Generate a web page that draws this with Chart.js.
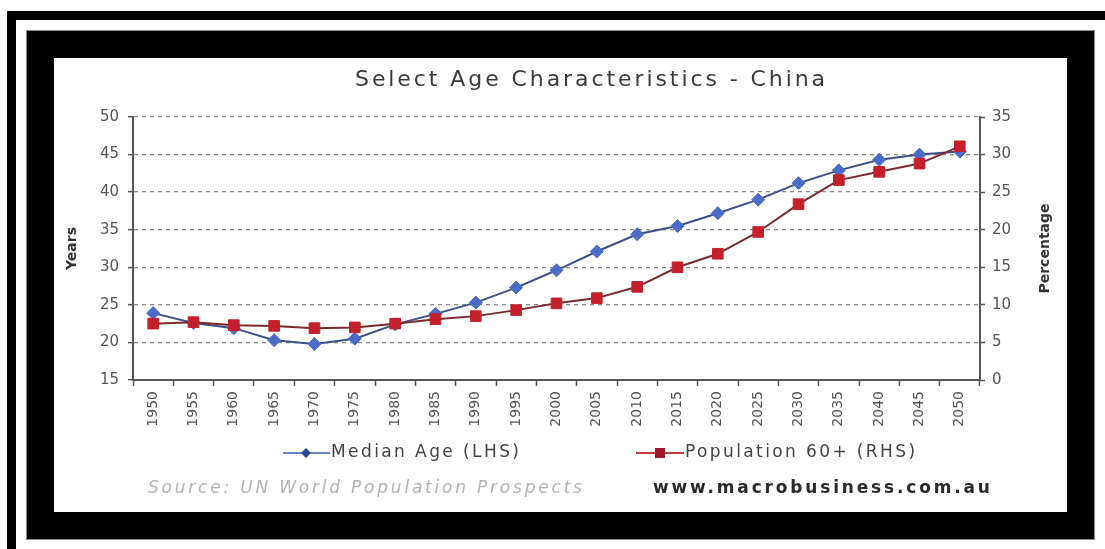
<!DOCTYPE html>
<html>
<head>
<meta charset="utf-8">
<script src="https://cdn.jsdelivr.net/npm/chart.js@4/dist/chart.umd.min.js"></script>
<style>
  html, body { margin: 0; padding: 0; background: #fff; }
  canvas { display: block; }
</style>
</head>
<body>
<canvas id="c" width="1105" height="549"></canvas>
<script>
// Years on the category axis
const years = ['1950','1955','1960','1965','1970','1975','1980','1985','1990','1995','2000',
               '2005','2010','2015','2020','2025','2030','2035','2040','2045','2050'];
// Median age in years (left axis)
const medianAge = [23.9, 22.6, 21.9, 20.3, 19.8, 20.5, 22.4, 23.8, 25.3, 27.3, 29.6,
                   32.1, 34.4, 35.5, 37.2, 39.0, 41.2, 42.9, 44.3, 45.0, 45.4];
// Share of population aged 60+, percent (right axis)
const pop60 = [7.5, 7.7, 7.3, 7.2, 6.9, 7.0, 7.5, 8.1, 8.5, 9.3, 10.2,
               10.9, 12.4, 15.0, 16.8, 19.7, 23.4, 26.6, 27.7, 28.8, 31.1];
// Axis tick settings
const leftTicks = { min: 15, max: 50, step: 5 };
const rightTicks = { min: 0, max: 35, step: 5 };

const titleText = 'Select Age Characteristics - China';
const leftTitle = 'Years';
const rightTitle = 'Percentage';
const sourceText = 'Source: UN World Population Prospects';
const siteText = 'www.macrobusiness.com.au';

const FONT = "'DejaVu Sans', Verdana, sans-serif";

// Draw text with letter spacing so it fills a given width
function spacedText(ctx, text, x, y, width, align) {
  ctx.letterSpacing = '0px';
  const w = ctx.measureText(text).width;
  const sp = Math.max(0, (width - w) / (text.length - 1));
  ctx.letterSpacing = sp.toFixed(2) + 'px';
  let sx = x;
  if (align === 'center') sx = x - width / 2;
  ctx.textAlign = 'left';
  ctx.fillText(text, sx, y);
  ctx.letterSpacing = '0px';
}

const framePlugin = {
  id: 'frame',
  beforeDraw(chart) {
    const ctx = chart.ctx;
    ctx.save();
    ctx.fillStyle = '#fff';
    ctx.fillRect(0, 0, chart.width, chart.height);
    ctx.fillStyle = '#000';
    ctx.fillRect(7, 11, 1098, 9);
    ctx.fillRect(7, 11, 9, 538);
    ctx.fillRect(26, 30, 1069, 510);
    ctx.strokeStyle = '#888';
    ctx.lineWidth = 1;
    ctx.strokeRect(26.5, 30.5, 1068, 509);
    ctx.fillStyle = '#fff';
    ctx.fillRect(54, 58, 1013, 454);
    ctx.restore();
  },
  afterDraw(chart) {
    const ctx = chart.ctx;
    const area = chart.chartArea;
    ctx.save();
    ctx.textBaseline = 'middle';

    // title
    ctx.fillStyle = '#3a3a3a';
    ctx.font = '22px ' + FONT;
    spacedText(ctx, titleText, 590, 80, 470, 'center');

    // axis titles, both reading bottom to top
    ctx.font = 'bold 14px ' + FONT;
    ctx.fillStyle = '#333';
    [[leftTitle, 72], [rightTitle, 1045]].forEach(([t, x]) => {
      ctx.save();
      ctx.translate(x, (area.top + area.bottom) / 2);
      ctx.rotate(-Math.PI / 2);
      ctx.textAlign = 'center';
      ctx.fillText(t, 0, 0);
      ctx.restore();
    });

    // legend
    const ds = chart.data.datasets;
    const blue = ds.find(d => d.yAxisID === 'y');
    const red = ds.find(d => d.yAxisID === 'y1');
    const ly = 453;
    ctx.lineWidth = 2;
    ctx.strokeStyle = '#6f84c4';
    ctx.beginPath(); ctx.moveTo(283, ly); ctx.lineTo(330, ly); ctx.stroke();
    ctx.fillStyle = '#2f4a94';
    ctx.beginPath();
    ctx.moveTo(306, ly - 5); ctx.lineTo(311, ly); ctx.lineTo(306, ly + 5); ctx.lineTo(301, ly);
    ctx.closePath(); ctx.fill();
    ctx.strokeStyle = '#c43a40';
    ctx.beginPath(); ctx.moveTo(636, ly); ctx.lineTo(684, ly); ctx.stroke();
    ctx.fillStyle = '#a3172a';
    ctx.fillRect(655, ly - 5, 10, 10);

    ctx.font = '17px ' + FONT;
    ctx.fillStyle = '#444';
    spacedText(ctx, blue.label, 331, ly, 188, 'left');
    spacedText(ctx, red.label, 685, ly, 230, 'left');

    // footer
    ctx.font = 'italic 17px ' + FONT;
    ctx.fillStyle = '#b2b2b2';
    spacedText(ctx, sourceText, 148, 489, 434, 'left');
    ctx.font = 'bold 17px ' + FONT;
    ctx.fillStyle = '#2a2a2a';
    spacedText(ctx, siteText, 653, 489, 337, 'left');
    ctx.restore();
  }
};

const tickFont = { family: FONT, size: 15 };

new Chart(document.getElementById('c'), {
  type: 'line',
  data: {
    labels: years,
    datasets: [
      {
        label: 'Population 60+ (RHS)',
        data: pop60,
        yAxisID: 'y1',
        order: 0,
        borderColor: '#7a2a2e',
        borderWidth: 2,
        pointStyle: 'rect',
        pointRadius: 7.5,
        pointBackgroundColor: '#c4202c',
        pointBorderColor: '#c4202c',
        pointBorderWidth: 1,
        tension: 0
      },
      {
        label: 'Median Age (LHS)',
        data: medianAge,
        yAxisID: 'y',
        order: 1,
        borderColor: '#3d4f86',
        borderWidth: 2,
        pointStyle: 'rectRot',
        pointRadius: 6.5,
        pointBackgroundColor: '#4a6cc6',
        pointBorderColor: '#4a6cc6',
        pointBorderWidth: 1,
        tension: 0
      }
    ]
  },
  options: {
    responsive: false,
    animation: false,
    devicePixelRatio: 1,
    layout: { padding: { left: 54, right: 38, top: 117, bottom: 37 } },
    plugins: {
      legend: { display: false },
      title: { display: false },
      tooltip: { enabled: false }
    },
    scales: {
      x: {
        type: 'category',
        offset: true,
        grid: { offset: true, drawOnChartArea: false, drawTicks: true, tickLength: 6,
                tickColor: '#555', tickWidth: 1.5 },
        border: { color: '#555', width: 2 },
        ticks: { minRotation: 90, maxRotation: 90, autoSkip: false, padding: 5,
                 font: { family: FONT, size: 14 }, color: '#555' },
        afterFit(s) { s.height = 132; }
      },
      y: {
        position: 'left',
        min: leftTicks.min,
        max: leftTicks.max,
        ticks: { stepSize: leftTicks.step, padding: 9, font: tickFont, color: '#555' },
        grid: { color: '#8a8a8a', lineWidth: 1.3, drawTicks: true, tickLength: 5,
                tickColor: '#555', tickWidth: 1.5, tickBorderDash: [] },
        border: { color: '#555', width: 2, dash: [4, 4] },
        afterFit(s) { s.width = 79; }
      },
      y1: {
        position: 'right',
        min: rightTicks.min,
        max: rightTicks.max,
        ticks: { stepSize: rightTicks.step, padding: 7, font: tickFont, color: '#555' },
        grid: { drawOnChartArea: false, drawTicks: true, tickLength: 5,
                tickColor: '#555', tickWidth: 1.5 },
        border: { color: '#555', width: 2 },
        afterFit(s) { s.width = 87; }
      }
    }
  },
  plugins: [framePlugin]
});
</script>
</body>
</html>
